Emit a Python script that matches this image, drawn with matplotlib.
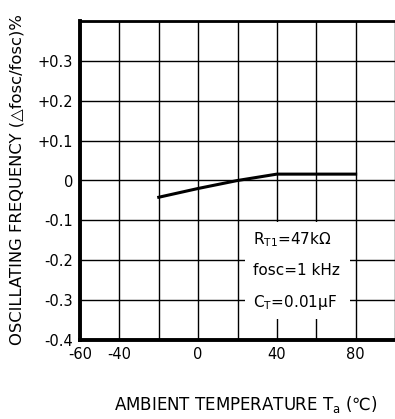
import matplotlib
matplotlib.use("Agg")
import matplotlib.pyplot as plt
from matplotlib.patches import Rectangle

plt.rcParams['font.family'] = ['DejaVu Sans', 'Noto Sans CJK JP']
plt.rcParams['mathtext.default'] = 'regular'

# curve
temp = [-20, 0, 20, 40, 80]
dfreq = [-0.042, -0.02, 0.0, 0.016, 0.016]

x_grid = [-60, -40, -20, 0, 20, 40, 60, 80, 100]
x_labels = ["-60", "-40", "", "0", "", "40", "", "80", ""]
y_ticks = [-0.4, -0.3, -0.2, -0.1, 0, 0.1, 0.2, 0.3, 0.4]
y_labels = ["-0.4", "-0.3", "-0.2", "-0.1", "0", "+0.1", "+0.2", "+0.3", ""]

notes = ["R$_{T1}$=47kΩ", "fosc=1 kHz", "C$_T$=0.01μF"]
note_y = [-0.148, -0.226, -0.307]

fig = plt.figure(figsize=(3.95, 4.19), dpi=100)
ax = fig.add_axes([80 / 395, 1 - 340 / 419, 1 - 80 / 395, (340 - 21) / 419])

ax.set_xlim(-60, 98.7)
ax.set_ylim(-0.4, 0.4)
ax.set_xticks(x_grid)
ax.set_xticklabels(x_labels, fontsize=10.5)
ax.set_yticks(y_ticks)
ax.set_yticklabels(y_labels, fontsize=10.5)
ax.tick_params(length=0, pad=5)
ax.grid(True, color='black', linewidth=1.0)
ax.set_axisbelow(True)

for s in ['left', 'bottom']:
    ax.spines[s].set_linewidth(2.8)
ax.spines['top'].set_linewidth(2.0)
ax.spines['right'].set_visible(False)

ax.plot(temp, dfreq, color='black', linewidth=2.2, zorder=3)

# white patch behind the condition notes
ax.add_patch(Rectangle((23.8, -0.347), 53.5, 0.242, facecolor='white',
                       edgecolor='none', zorder=2))
for t, yy in zip(notes, note_y):
    ax.text(27.8, yy, t, fontsize=11, va='center', ha='left', zorder=4)

fig.text(17 / 395, 1 - 180 / 419, "OSCILLATING FREQUENCY (△fosc/fosc)%",
         fontsize=11.8, rotation=90, ha='center', va='center')
fig.text(246 / 395, 1 - 404 / 419, "AMBIENT TEMPERATURE T$_a$ (℃)", fontsize=12,
         ha='center', va='center')

fig.savefig("out.png", dpi=100)
